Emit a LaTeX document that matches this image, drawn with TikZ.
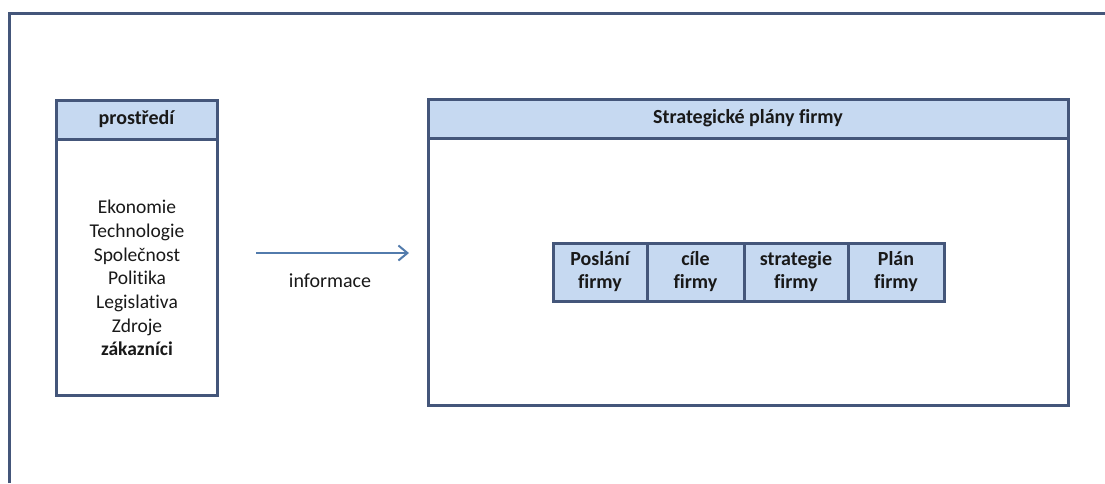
\documentclass[tikz,border=0pt]{standalone}
\usepackage{fontspec}
\setmainfont{Carlito}[Ligatures={NoCommon}]
\usetikzlibrary{arrows.meta}
\definecolor{bord}{RGB}{68,86,122}
\definecolor{fillb}{RGB}{198,217,241}
\definecolor{arr}{RGB}{82,123,172}
\definecolor{txt}{RGB}{25,25,25}
\tikzset{
  boxline/.style={draw=bord,line width=3pt},
  header/.style={boxline,fill=fillb,inner sep=0pt,font=\fontsize{20pt}{23.5pt}\selectfont\bfseries,text=txt},
  body/.style={boxline,fill=white,inner sep=0pt},
  cell/.style={boxline,fill=fillb,minimum height=58pt,inner sep=0pt,align=center,
    font=\fontsize{20pt}{23pt}\selectfont\bfseries,text=txt},
  lbl/.style={font=\fontsize{19.5pt}{23.7pt}\selectfont,text=txt,align=center},
}
\begin{document}
\begin{tikzpicture}[x=1pt,y=-1pt]
\useasboundingbox (0,0) rectangle (1105,483);
\draw[boxline] (9,483) -- (9,13) -- (1105,13);
% left box
\node[body,minimum width=161pt,minimum height=295pt] (envbody) at (136.5,247.5) {};
\node[header,minimum width=161pt,minimum height=39pt] (envhead) at (136.5,119.5) {prostředí};
\node[lbl] (envlist) at (137,278) {Ekonomie\\Technologie\\Společnost\\Politika\\Legislativa\\Zdroje\\\textbf{zákazníci}};
% right box
\node[body,minimum width=640pt,minimum height=306pt] (planbody) at (748,252) {};
\node[header,minimum width=640pt,minimum height=39pt] (planhead) at (748,118.5) {Strategické plány firmy};
% cells
\node[cell,minimum width=94pt] (c1) at (600,272) {Poslání\\firmy};
\node[cell,minimum width=97pt] (c2) at (695.5,272) {cíle\\firmy};
\node[cell,minimum width=104pt] (c3) at (796,272) {strategie\\firmy};
\node[cell,minimum width=96pt] (c4) at (896,272) {Plán\\firmy};
% arrow
\coordinate (as) at (256,253);
\coordinate (ae) at (409,253);
\draw[draw=arr,line width=2pt,-{Straight Barb[length=9pt,width=15pt,line width=2pt]}] (as) -- (ae);
\node[lbl,font=\fontsize{20pt}{23.7pt}\selectfont] (info) at (330,281) {informace};
\end{tikzpicture}
\end{document}
